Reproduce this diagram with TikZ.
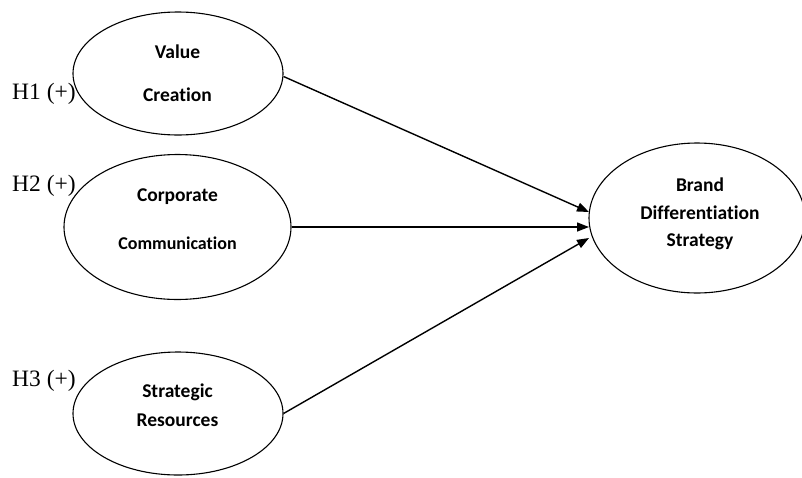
\documentclass[tikz,border=0pt]{standalone}
\usepackage{fontspec}
\setmainfont{Liberation Serif}
\newfontfamily\calib[Ligatures=NoCommon]{Carlito}
\usetikzlibrary{shapes.geometric,arrows.meta}
\begin{document}
\begin{tikzpicture}[x=1pt,y=-1pt,
  construct/.style={draw, ellipse, line width=1.1pt, inner sep=0pt},
  lbl/.style={font=\calib\bfseries\fontsize{19.5}{22}\selectfont, inner sep=0pt, anchor=center},
  hyp/.style={font=\fontsize{23.5}{26}\selectfont, inner sep=0pt, anchor=west},
  path1/.style={line width=1.4pt, -{Triangle[length=12pt,width=9pt]}}]
\useasboundingbox (0,0) rectangle (802,477);
\node[construct, minimum width=210pt, minimum height=123pt] (e1) at (178,73.5) {};
\node[construct, minimum width=227pt, minimum height=145pt] (e2) at (177.5,227) {};
\node[construct, minimum width=210pt, minimum height=123pt] (e3) at (178,413.5) {};
\node[construct, minimum width=216pt, minimum height=150pt] (e4) at (697,218) {};
\node[lbl] (t1a) at (177.5,52) {Value};
\node[lbl] (t1b) at (177.5,95) {Creation};
\node[lbl] (t2a) at (177.5,197) {Corporate};
\node[lbl, font=\calib\bfseries\fontsize{18}{20}\selectfont] (t2b) at (177.5,243) {Communication};
\node[lbl] (t3a) at (177.5,392) {Strategic};
\node[lbl] (t3b) at (177.5,420) {Resources};
\node[lbl] (t4a) at (700,185) {Brand};
\node[lbl] (t4b) at (700,213) {Differentiation};
\node[lbl] (t4c) at (700,242) {Strategy};
\node[hyp] (h1) at (12,94) {H1 (+)};
\node[hyp] (h2) at (12,186) {H2 (+)};
\node[hyp] (h3) at (12,381) {H3 (+)};
\coordinate (p1) at (589,212);
\coordinate (p2) at (589,227);
\coordinate (p3) at (589,238);
\draw[path1] (e1.east) ++(0,3) -- (p1);
\draw[path1] (e2.east) -- (p2);
\draw[path1] (e3.east) -- (p3);
\end{tikzpicture}
\end{document}
